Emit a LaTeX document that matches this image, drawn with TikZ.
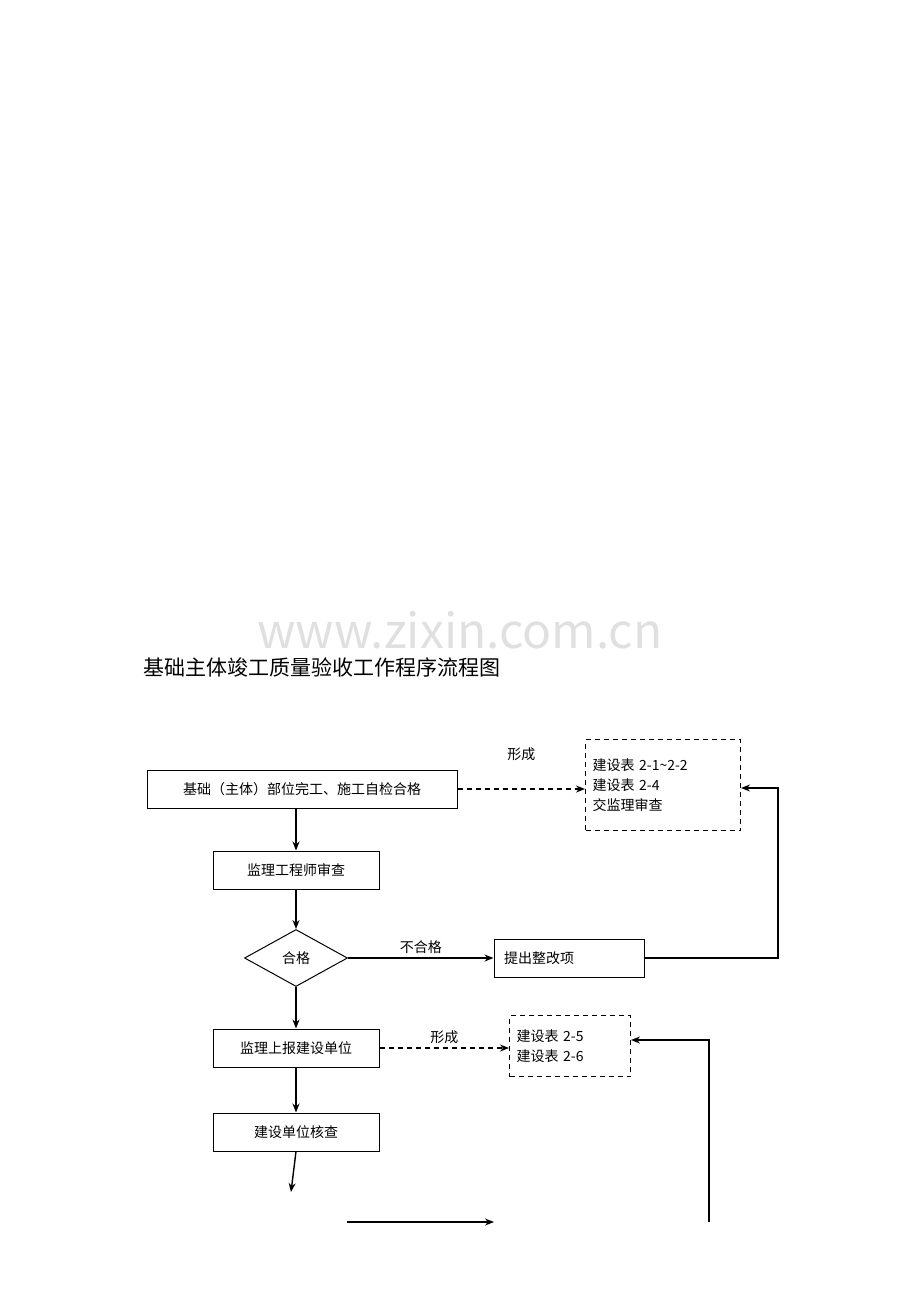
\documentclass[tikz,border=0pt]{standalone}
\usepackage{fontspec}
\setmainfont{Noto Sans CJK SC}
\usetikzlibrary{shapes.geometric, arrows, arrows.meta}
\tikzstyle{arrow} = [line width=1.4pt,-{Stealth[length=9pt,width=7pt]}]
\tikzstyle{dline} = [dash pattern=on 5pt off 4pt]
\tikzstyle{box} = [draw, line width=1pt, minimum height=38pt, inner sep=0pt]
\tikzstyle{dbox} = [draw, line width=1pt, dline, align=left, inner sep=0pt]

\begin{document}
\begin{tikzpicture}[x=1pt,y=-1pt,font=\fontsize{14}{20}\selectfont]
	\useasboundingbox (0,0) rectangle (920,1302);
	% watermark and title
	\node [text=black!12, font=\fontsize{48}{48}\selectfont] (mark) at (460,630) {www.zixin.com.cn};
	\node [anchor=west, font=\fontsize{21}{24}\selectfont] (title) at (140,667) {基础主体竣工质量验收工作程序流程图};
	
	% boxes:
	\node [box, minimum width=310pt] (start) at (302,789) {基础（主体）部位完工、施工自检合格};
	\node [box, minimum width=166pt] (check) at (296,870) {监理工程师审查};
	\node [draw, line width=1pt, diamond, aspect=1.8, minimum width=103pt, minimum height=57pt, inner sep=0pt] (ok) at (296,958) {合格};
	\node [box, minimum width=150pt, text width=130pt] (fix) at (569,958) {提出整改项};
	\node [box, minimum width=166pt] (report) at (296,1048) {监理上报建设单位};
	\node [box, minimum width=166pt] (owner) at (296,1132) {建设单位核查};
	\node [dbox, minimum width=155pt, minimum height=91pt, text width=141pt] (formA) at (663,785) {建设表 2-1\textasciitilde2-2\\建设表 2-4\\交监理审查};
	\node [dbox, minimum width=121pt, minimum height=61pt, text width=107pt] (formB) at (570,1046) {建设表 2-5\\建设表 2-6};
	
	% free ends:
	\coordinate (endA) at (291,1192);
	\coordinate (backB) at (709,1222);
	\coordinate (lowL) at (347,1222);
	\coordinate (lowR) at (494,1222);
	
	% connectors:
	\draw [arrow, dline] (start.east) -- node [above=24pt] {形成} (start.east -| formA.west);
	\draw [arrow] (start.south -| check.north) -- (check.north);
	\draw [arrow] (check) -- (ok);
	\draw [arrow] (ok.east) -- node [above] {不合格} (fix.west);
	\draw [arrow] (fix.east) -- (778,958) -- (778,788) -- (formA.east |- 0,788);
	\draw [arrow] (ok.south) -- (report.north);
	\draw [arrow, dline] (report.east) -- node [above] {形成} (report.east -| formB.west);
	\draw [arrow] (backB) -- (709,1040) -- (formB.east |- 0,1040);
	\draw [arrow] (report.south) -- (owner.north);
	\draw [arrow] (owner.south) -- (endA);
	\draw [arrow] (lowL) -- (lowR);
\end{tikzpicture}
\end{document}
